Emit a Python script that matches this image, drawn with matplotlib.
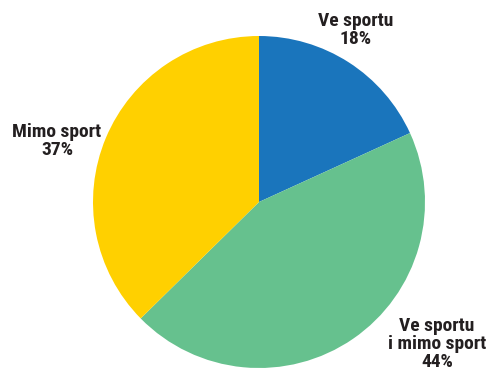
import matplotlib.pyplot as plt

# share of answers
labels = ['Ve sportu', 'Ve sportu\ni mimo sport', 'Mimo sport']
values = [18, 44, 37]
colors = ['#1a75bc', '#66c18e', '#ffd000']

fig = plt.figure(figsize=(4.9, 3.7), dpi=100)
ax = fig.add_axes([0, 0, 1, 1])

ax.pie(values, colors=colors, startangle=90, counterclock=False,
       radius=166, center=(259, 168), frame=True,
       wedgeprops={'linewidth': 0})
ax.set_xlim(0, 490)
ax.set_ylim(0, 370)
ax.set_aspect('equal')
ax.axis('off')

# label positions (x, y of text centre)
pos = [(356, 340), (437, 26), (57, 229)]
for lab, v, (x, y) in zip(labels, values, pos):
    ax.text(x, y, f'{lab}\n{v}%', ha='center', va='center',
            fontsize=14, fontweight='bold', color='#231f20',
            family=['Roboto Condensed', 'Asap Condensed', 'DejaVu Sans'],
            linespacing=1.02)

fig.savefig('out.png', dpi=100)
